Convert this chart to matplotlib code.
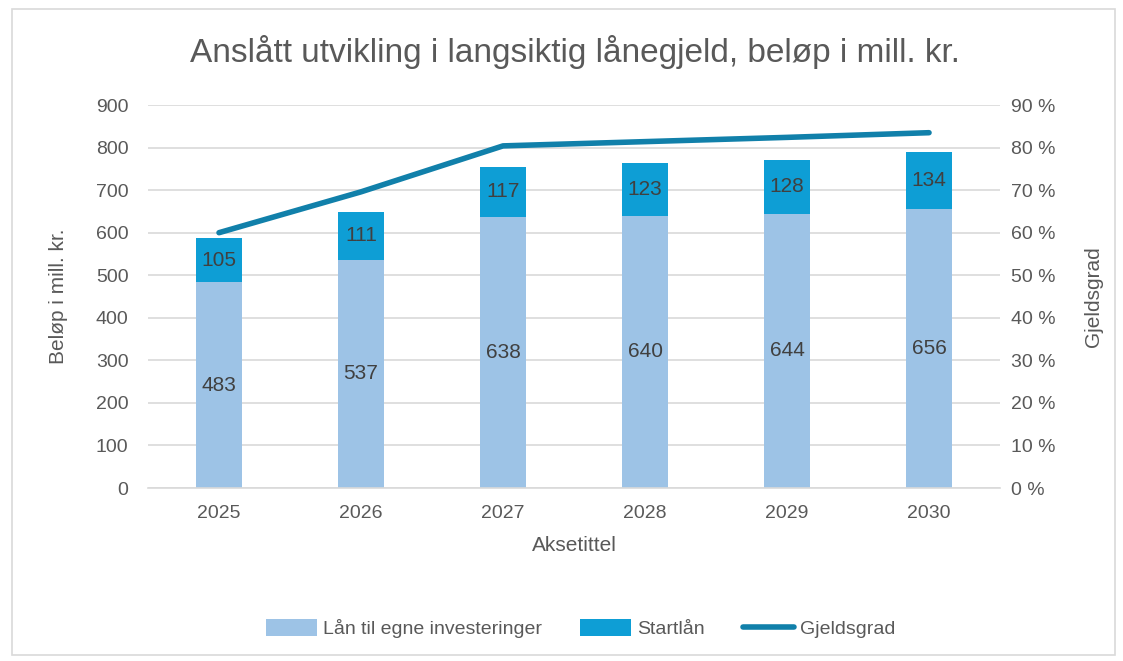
import matplotlib
matplotlib.use("Agg")
import matplotlib.pyplot as plt
from matplotlib.patches import Rectangle
from matplotlib.ticker import FuncFormatter
import numpy as np

years = ["2025", "2026", "2027", "2028", "2029", "2030"]
egne = [483, 537, 638, 640, 644, 656]
startlan = [105, 111, 117, 123, 128, 134]
gjeldsgrad = [60.0, 69.6, 80.4, 81.4, 82.4, 83.5]

plt.rcParams['font.family'] = ['Liberation Sans', 'DejaVu Sans']
txt = '#595959'
grid = '#D9D9D9'
c_light = '#9DC3E6'
c_mid = '#0E9ED5'
c_line = '#1180AA'

fig = plt.figure(figsize=(11.23, 6.61), dpi=100)
fig.patches.append(Rectangle((0.011, 0.009), 0.982, 0.978, transform=fig.transFigure,
                             fill=False, edgecolor=grid, linewidth=1.2))
ax = fig.add_axes([0.1318, 0.2617, 0.7587, 0.5794])
ax2 = ax.twinx()

x = np.arange(len(years))
w = 0.32
b1 = ax.bar(x, egne, w, color=c_light, label='Lån til egne investeringer', zorder=2)
b2 = ax.bar(x, startlan, w, bottom=egne, color=c_mid, label='Startlån', zorder=2)
for xi, v in zip(x, egne):
    ax.text(xi, v / 2, str(v), ha='center', va='center', fontsize=15, color='#404040', zorder=3)
for xi, b, v in zip(x, egne, startlan):
    ax.text(xi, b + v / 2, str(v), ha='center', va='center', fontsize=15, color='#404040', zorder=3)

ln, = ax2.plot(x, gjeldsgrad, color=c_line, linewidth=4, solid_capstyle='round',
               label='Gjeldsgrad', zorder=4)

ax.set_xlim(-0.5, len(years) - 0.5)
ax.set_ylim(0, 900)
ax.set_yticks(np.arange(0, 901, 100))
ax2.set_ylim(0, 90)
ax2.set_yticks(np.arange(0, 91, 10))
ax2.yaxis.set_major_formatter(FuncFormatter(lambda v, p: f"{int(v)} %"))
ax.set_xticks(x)
ax.set_xticklabels(years)

ax.grid(axis='y', color=grid, linewidth=1.2, zorder=0)
ax.set_axisbelow(True)
for a in (ax, ax2):
    for s in a.spines.values():
        s.set_visible(False)
    a.tick_params(length=0, labelsize=14, colors=txt)
ax.spines['bottom'].set_visible(True)
ax.spines['bottom'].set_color(grid)
ax.spines['bottom'].set_linewidth(1.2)
ax.tick_params(axis='x', pad=12)
ax.tick_params(axis='y', pad=14)
ax2.tick_params(axis='y', pad=8)
ax2.patch.set_visible(False)
ax.set_zorder(1); ax2.set_zorder(2)

ax.set_ylabel('Beløp i mill. kr.', fontsize=15, color=txt, labelpad=20)
ax2.set_ylabel('Gjeldsgrad', fontsize=15, color=txt, labelpad=20, rotation=90)
ax.set_xlabel('Aksetittel', fontsize=15, color=txt, labelpad=10)

fig.text(0.512, 0.921, 'Anslått utvikling i langsiktig lånegjeld, beløp i mill. kr.',
         ha='center', va='center', fontsize=24, color=txt)

fig.legend(handles=[b1, b2, ln], loc='center', bbox_to_anchor=(0.517, 0.049), ncol=3,
           frameon=False, fontsize=14, labelcolor=txt, handlelength=2.6, handleheight=1.0,
           columnspacing=2.0, handletextpad=0.3)

fig.savefig('out.png', dpi=100)
